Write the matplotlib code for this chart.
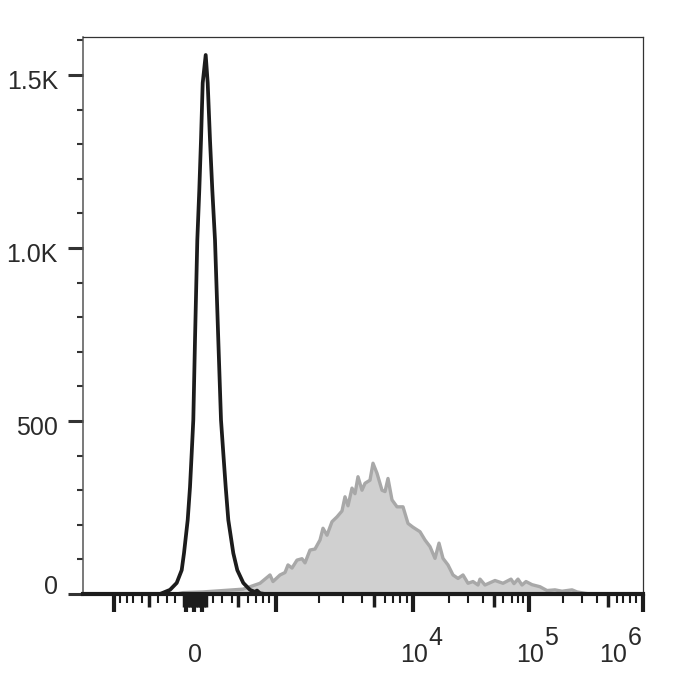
import matplotlib
matplotlib.use("Agg")
import matplotlib.pyplot as plt
from matplotlib.transforms import ScaledTranslation

plt.rcParams['font.family'] = ['Liberation Sans', 'DejaVu Sans']

# x is in display channels (biexponential axis already applied)
black_x = [0, 77, 87, 93.7, 98.7, 101, 104.7, 107, 108.7, 110.3, 112, 114.3, 116.3, 118, 119.7,
           122.7, 124.7, 127, 129.3, 132, 135.3, 138, 140.3, 142.7, 145.3, 150.3, 154.3, 160.3,
           167, 172, 174, 177, 182, 560]
black_y = [0, 0, 12, 32, 69, 118, 214, 309, 407, 503, 734, 1023, 1168, 1312, 1477,
           1558, 1477, 1312, 1168, 1023, 734, 503, 407, 309, 214, 118, 69, 32,
           12, 6, 10, 2, 0, 0]

gray_x = [94, 100, 120, 140, 150, 160, 167, 177, 187, 190, 197, 202, 205, 209, 214, 219, 222,
          227, 232, 237, 240, 244, 249, 254, 259, 262, 265, 269, 272, 275, 279, 282, 287, 290,
          294, 299, 302, 305, 309, 314, 320, 325, 330, 337, 342, 347, 352, 356, 360, 365, 370,
          375, 380, 385, 390, 395, 397, 402, 412, 420, 428, 431, 435, 439, 443, 449, 457, 464,
          472, 479, 489, 494, 502, 507]
gray_y = [0, 4, 6, 10, 12, 14, 21, 31, 55, 36, 55, 62, 84, 75, 98, 102, 90,
          127, 130, 156, 190, 170, 209, 223, 240, 281, 255, 306, 290, 339, 300, 320, 329, 378,
          349, 300, 296, 334, 272, 252, 252, 204, 193, 180, 156, 137, 103, 147, 103, 84, 55,
          45, 55, 31, 36, 26, 43, 26, 39, 31, 43, 30, 43, 26, 36, 27, 21, 10,
          12, 8, 12, 6, 2, 0]

y_ticks = [0, 500, 1000, 1500]
y_labels = ['0', '500', '1.0K', '1.5K']
y_minor = [100, 200, 300, 400, 600, 700, 800, 900, 1100, 1200, 1300, 1400, 1600]

x_long = [31, 103, 111, 119, 193, 330, 446, 560]
x_medium = [66, 155, 291, 411, 525] + list(range(101, 124, 2))
x_small = [37, 44, 50, 59, 75, 84, 92, 130, 139, 149, 165, 173, 180, 186, 236, 260, 279,
           302, 310, 317, 324, 366, 385, 400, 420, 429, 435, 440, 480, 499, 514,
           534, 540, 547, 553]

x_label_pos = [112, 331.5, 447, 530.5]
x_label_base = ['0', '10', '10', '10']
x_label_exp = ['', '4', '5', '6']

txt = '#2a2a2a'
fig = plt.figure(figsize=(7, 7), dpi=100)
ax = fig.add_axes([83 / 700, 106 / 700, 560 / 700, 557 / 700])

ax.fill_between(gray_x, gray_y, color='#d0d0d0', lw=0, zorder=1)
ax.plot(gray_x, gray_y, color='#a8a8a8', lw=2.4, zorder=2)
ax.plot(black_x, black_y, color='#1c1c1c', lw=2.7, zorder=3)

ax.set_xlim(0, 560)
ax.set_ylim(0, 1610)

for s in ['top', 'right']:
    ax.spines[s].set_linewidth(0.9)
    ax.spines[s].set_color('#333333')
ax.spines['left'].set_linewidth(1.1)
ax.spines['left'].set_color('#555555')
ax.spines['bottom'].set_linewidth(3)
ax.spines['bottom'].set_color('#1c1c1c')
ax.spines['bottom'].set_zorder(4)

ax.set_yticks(y_ticks)
ax.set_yticklabels(y_labels, fontsize=18, color=txt)
ax.set_yticks(y_minor, minor=True)
ax.tick_params(axis='y', which='major', length=11, width=2.2, color='#333333', pad=7)
ax.tick_params(axis='y', which='minor', length=4.5, width=1.5, color='#333333')
for lab, t in zip(ax.get_yticklabels(), y_ticks):
    dy = 10 if t == 0 else -4
    lab.set_transform(lab.get_transform() + ScaledTranslation(0, dy / 100, fig.dpi_scale_trans))

ax.set_xticks(x_long)
ax.set_xticks(x_small, minor=True)
ax.tick_params(axis='x', which='major', length=13, width=3, color='#1c1c1c', labelbottom=False)
ax.tick_params(axis='x', which='minor', length=6.5, width=1.5, color='#1c1c1c')

sec = ax.secondary_xaxis('bottom')
sec.set_xticks(x_medium)
sec.tick_params(axis='x', length=9.4, width=2.5, color='#1c1c1c', labelbottom=False)
sec.spines['bottom'].set_visible(False)

for xp, base, ex in zip(x_label_pos, x_label_base, x_label_exp):
    if ex == '':
        ax.annotate(base, xy=(xp, 0), xycoords=('data', 'axes fraction'),
                    xytext=(0, -44), textcoords='offset points',
                    ha='center', va='center', fontsize=18, color=txt)
    else:
        ax.annotate(base, xy=(xp, 0), xycoords=('data', 'axes fraction'),
                    xytext=(0, -49), textcoords='offset points',
                    ha='center', va='baseline', fontsize=18, color=txt)
        ax.annotate(ex, xy=(xp, 0), xycoords=('data', 'axes fraction'),
                    xytext=(10, -36.5), textcoords='offset points',
                    ha='left', va='baseline', fontsize=18, color=txt)

fig.savefig('out.png', dpi=100)
